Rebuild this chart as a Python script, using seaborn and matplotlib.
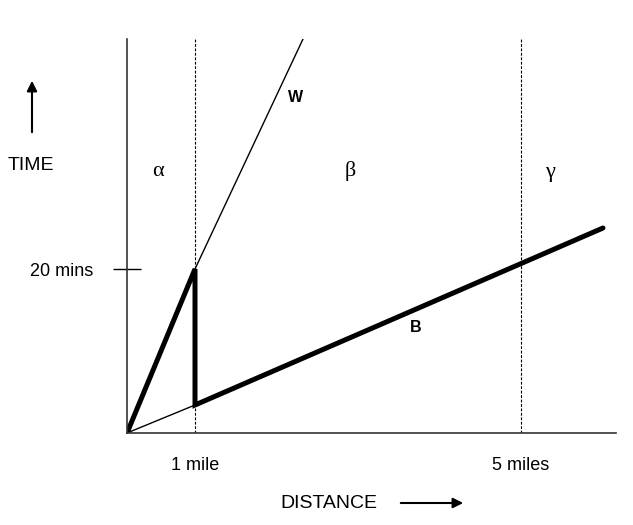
import matplotlib
matplotlib.use("Agg")
import matplotlib.pyplot as plt
import seaborn as sns

# diagram units: 1 unit ~ 1 px of the original sketch (distance right, time up)
w_dist = [0, 68, 176]
w_time = [0, 164, 394]

b_thin_dist = [0, 68]
b_thin_time = [0, 28]

# thick path: walk to 1 mile, wait, then the bus
path_dist = [0, 68, 68, 476]
path_time = [0, 164, 28, 205]

mile_marks = [68, 394]
mile_labels = ["1 mile", "5 miles"]
time_marks = [164]
time_labels = ["20 mins"]

zones = ["\u03b1", "\u03b2", "\u03b3"]
zone_x = [31, 223, 423]
zone_y = [262, 262, 261]

sns.set_style("white")
plt.rcParams["font.family"] = ["Liberation Sans", "DejaVu Sans"]
plt.rcParams["text.color"] = "black"
plt.rcParams["xtick.color"] = "black"
plt.rcParams["ytick.color"] = "black"

W, H = 633, 525
fig = plt.figure(figsize=(W / 100, H / 100), dpi=100)
ax = fig.add_axes([127 / W, (H - 433) / H, 489 / W, 394 / H])

ax.set_xlim(0, 489)
ax.set_ylim(0, 394)

sns.lineplot(x=w_dist, y=w_time, ax=ax, color="black", lw=1.0, sort=False, estimator=None)
sns.lineplot(x=b_thin_dist, y=b_thin_time, ax=ax, color="black", lw=1.0, sort=False, estimator=None)
sns.lineplot(x=path_dist, y=path_time, ax=ax, color="black", lw=3.6, sort=False, estimator=None,
             solid_capstyle="round", solid_joinstyle="miter")

for m in mile_marks:
    ax.axvline(m, color="black", lw=0.8, ls=(0, (2.5, 1.5)), zorder=0)

for s in ["top", "right"]:
    ax.spines[s].set_visible(False)
for s in ["left", "bottom"]:
    ax.spines[s].set_color("#333333")
    ax.spines[s].set_linewidth(1.2)

ax.set_xticks(mile_marks, mile_labels)
ax.set_yticks(time_marks, time_labels)
ax.tick_params(axis="x", length=0, pad=17, labelsize=13)
ax.tick_params(axis="y", direction="inout", length=20, width=1.0, pad=14,
               labelsize=13, left=True, color="black")

for z, zx, zy in zip(zones, zone_x, zone_y):
    ax.text(zx, zy, z, ha="center", va="center", fontsize=16,
            family=["Liberation Serif", "DejaVu Serif"])

ax.text(169, 336, "W", ha="center", va="center", fontsize=11.5, fontweight="bold")
ax.text(289, 106, "B", ha="center", va="center", fontsize=11.5, fontweight="bold")

# axis names with arrows
fig.text(31 / W, 1 - 165 / H, "TIME", ha="center", va="center", fontsize=14)
fig.text(329 / W, 1 - 504 / H, "DISTANCE", ha="center", va="center", fontsize=14)
fig.add_artist(matplotlib.patches.FancyArrowPatch(
    (32 / W, 1 - 135 / H), (32 / W, 1 - 78 / H), transform=fig.transFigure,
    arrowstyle="-|>,head_length=6,head_width=3", color="black", lw=1.5))
fig.add_artist(matplotlib.patches.FancyArrowPatch(
    (398 / W, 1 - 503 / H), (466 / W, 1 - 503 / H), transform=fig.transFigure,
    arrowstyle="-|>,head_length=6,head_width=3", color="black", lw=1.5))

fig.savefig("out.png", dpi=100)
